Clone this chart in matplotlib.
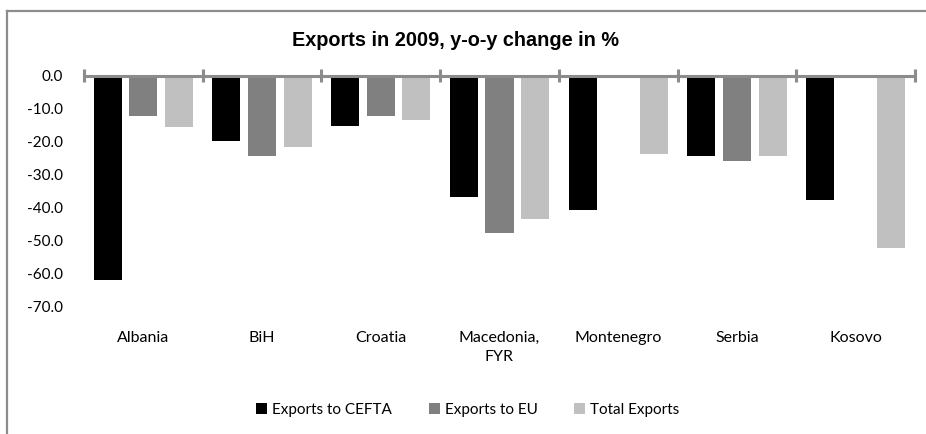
import matplotlib
matplotlib.use("Agg")
import matplotlib.pyplot as plt
from matplotlib.lines import Line2D
import numpy as np

categories = ["Albania", "BiH", "Croatia", "Macedonia,\nFYR", "Montenegro", "Serbia", "Kosovo"]
series_names = ["Exports to CEFTA", "Exports to EU", "Total Exports"]
cefta = [-61.8, -19.9, -15.2, -36.7, -40.7, -24.3, -37.7]
eu = [-12.2, -24.3, -12.2, -47.6, np.nan, -26.0, np.nan]
total = [-15.7, -21.7, -13.5, -43.3, -23.8, -24.3, -52.2]
yticks = [0, -10, -20, -30, -40, -50, -60, -70]
title = "Exports in 2009, y-o-y change in %"

colors = ["#000000", "#808080", "#c0c0c0"]
font = "Lato"

fig = plt.figure(figsize=(9.26, 4.34), dpi=100)
ax = fig.add_axes([84/926, 1 - 307/434, (915-84)/926, (307-75.5)/434])

x = np.arange(len(categories))
w = 0.236
step = 0.30
for i, (vals, c, name) in enumerate(zip([cefta, eu, total], colors, series_names)):
    ax.bar(x + (i - 1) * step, vals, width=w, color=c, label=name, zorder=2)

ax.set_xlim(-0.5, len(categories) - 0.5)
ax.set_ylim(-70, 0)
for s in ax.spines.values():
    s.set_visible(False)

axis_col = "#8c8c8c"
ax.axhline(0, color=axis_col, lw=2.2, zorder=3, clip_on=False)
bounds = np.arange(len(categories) + 1) - 0.5
ax.vlines(bounds, -2.1, 2.1, color=axis_col, lw=2.2, zorder=3, clip_on=False)

ax.set_yticks(yticks)
ax.set_yticklabels([f"{v:.1f}" for v in yticks], fontsize=11, family=font)
ax.tick_params(axis="y", length=0, pad=15)
ax.set_xticks(x)
ax.set_xticklabels(categories, fontsize=11.5, family=font, linespacing=1.5)
ax.tick_params(axis="x", length=0, pad=17)

fig.text(455/926, 1 - 40/434, title, ha="center", va="center",
         fontsize=14.3, fontweight="bold", family="Liberation Sans")

leg = fig.legend(loc="center", bbox_to_anchor=(468/926, 1 - 410/434), ncol=3, frameon=False,
                 prop={"family": font, "size": 11}, handlelength=0.7, handleheight=0.7,
                 handletextpad=0.35, columnspacing=2.4)

# outer frame (top and left visible)
fig.add_artist(Line2D([7/926, 1], [1 - 11/434, 1 - 11/434], color="#8c8c8c", lw=1.6,
                      transform=fig.transFigure))
fig.add_artist(Line2D([7/926, 7/926], [0, 1 - 11/434], color="#8c8c8c", lw=1.6,
                      transform=fig.transFigure))

fig.savefig("out.png", dpi=100)
